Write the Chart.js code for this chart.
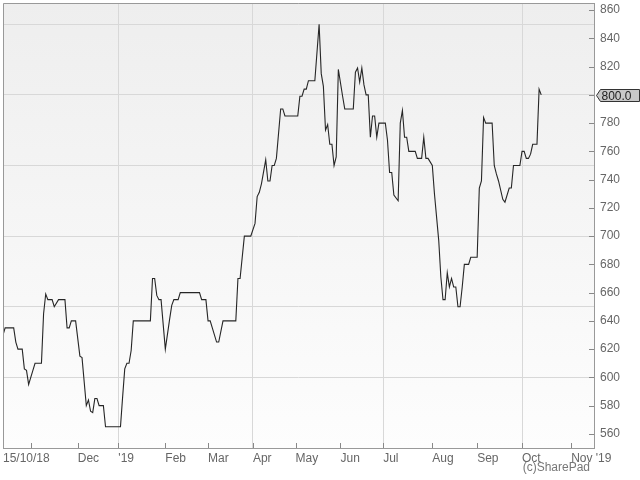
<!DOCTYPE html>
<html>
<head>
<meta charset="utf-8">
<script src="https://cdn.jsdelivr.net/npm/chart.js@4"></script>
<style>
  html, body { margin: 0; padding: 0; background: #fff; }
</style>
</head>
<body>
<canvas id="chart" width="640" height="480"></canvas>
<script>
// trading-day index counted from 15/10/18, and close price (p)
const dayIndex = [0, 1, 5, 6, 7, 9, 10, 11, 12, 14, 15, 18, 19, 20, 21, 23, 24, 26, 29, 30,
  31, 32, 34, 36, 37, 39, 40, 41, 42, 43, 44, 45, 47, 48, 55, 56, 57, 58, 59, 60,
  61, 69, 70, 71, 72, 73, 74, 76, 78, 79, 80, 82, 83, 92, 93, 95, 96, 97, 100, 101,
  103, 109, 110, 111, 113, 116, 118, 119, 120, 121, 123, 124, 125, 126, 127, 128, 130, 131, 132, 138,
  139, 140, 141, 142, 143, 146, 148, 149, 150, 151, 152, 153, 154, 155, 156, 157, 159, 160, 164, 165,
  166, 167, 168, 169, 170, 171, 172, 173, 174, 175, 176, 179, 180, 181, 182, 183, 185, 186, 187, 188,
  189, 190, 193, 194, 196, 197, 198, 199, 201, 202, 204, 205, 206, 207, 208, 209, 210, 211, 212, 213,
  214, 215, 216, 218, 219, 222, 223, 224, 225, 226, 229, 230, 231, 232, 234, 235, 237, 238, 239, 242,
  243, 244, 245, 246, 247, 248, 250, 251, 252];
const closePrice = [630, 635, 635, 625, 620, 620, 606, 605, 595, 605, 610, 610, 645, 659, 655, 655, 650, 655, 655, 635,
  635, 640, 640, 615, 614, 580, 584, 576, 575, 585, 585, 580, 580, 565, 565, 586, 606, 610, 610, 619,
  640, 640, 670, 670, 658, 655, 655, 620, 641, 651, 655, 655, 660, 660, 655, 655, 640, 640, 625, 625,
  640, 640, 670, 670, 700, 700, 709, 728, 731, 737, 754, 739, 739, 750, 750, 755, 790, 790, 785, 785,
  799, 799, 804, 804, 810, 810, 850, 815, 806, 775, 779, 765, 765, 750, 756, 818, 799, 790, 790, 816,
  819, 809, 819, 807, 800, 800, 770, 785, 785, 770, 780, 780, 768, 745, 745, 729, 725, 780, 789, 770,
  770, 760, 760, 755, 755, 770, 755, 755, 750, 730, 697, 671, 655, 655, 674, 664, 670, 664, 664, 650,
  650, 664, 680, 680, 685, 685, 734, 739, 784, 780, 780, 750, 744, 739, 726, 724, 734, 734, 750, 750,
  760, 760, 755, 755, 758, 765, 765, 804, 800];

// month starts (trading-day index) and their labels
const monthTicks = [0, 13, 35, 54, 76, 96, 117, 137, 158, 178, 201, 222, 243, 266];
const monthLabels = ['15/10/18', '', 'Dec', "'19", 'Feb', 'Mar', 'Apr', 'May', 'Jun', 'Jul', 'Aug', 'Sep', 'Oct', "Nov '19"];
const quarterTicks = [54, 117, 178, 243];
const priceTicks = [560, 580, 600, 620, 640, 660, 680, 700, 720, 740, 760, 780, 800, 820, 840, 860];
const priceGrid = [600, 650, 700, 750, 800, 850];

const FAMILY = "'Liberation Sans Narrow', 'Liberation Sans', Arial, sans-serif";
const FONT = { family: FAMILY, size: 12 };

const sharePadLook = {
  id: 'sharePadLook',
  beforeDraw(chart) {
    const { ctx, chartArea: a } = chart;
    ctx.save();
    ctx.fillStyle = '#fff';
    ctx.fillRect(0, 0, chart.width, chart.height);
    const g = ctx.createLinearGradient(0, a.top, 0, a.bottom);
    g.addColorStop(0, '#eeeeee');
    g.addColorStop(1, '#fdfdfd');
    ctx.fillStyle = g;
    ctx.fillRect(a.left, a.top, a.right - a.left, a.bottom - a.top);
    ctx.restore();
  },
  afterDraw(chart) {
    const { ctx, chartArea: a, scales } = chart;
    ctx.save();
    // top and left frame
    ctx.strokeStyle = '#999';
    ctx.lineWidth = 1;
    ctx.beginPath();
    ctx.moveTo(a.left + 0.5, a.bottom);
    ctx.lineTo(a.left + 0.5, a.top + 0.5);
    ctx.lineTo(a.right, a.top + 0.5);
    ctx.stroke();

    // small inside tick marks
    ctx.strokeStyle = '#888';
    ctx.beginPath();
    monthTicks.slice(1).forEach(t => {
      const px = Math.round(scales.x.getPixelForValue(t)) + 0.5;
      ctx.moveTo(px, a.bottom);
      ctx.lineTo(px, a.bottom - 5);
    });
    priceTicks.forEach(t => {
      const py = Math.round(scales.y.getPixelForValue(t)) + 0.5;
      ctx.moveTo(a.right - 5, py);
      ctx.lineTo(a.right, py);
    });
    ctx.stroke();

    // last price tag
    const last = closePrice[closePrice.length - 1];
    const py = Math.round(scales.y.getPixelForValue(last)) + 0.5;
    const x0 = a.right + 2.5;
    ctx.beginPath();
    ctx.moveTo(x0, py);
    ctx.lineTo(x0 + 4, py - 6);
    ctx.lineTo(639.5, py - 6);
    ctx.lineTo(639.5, py + 6);
    ctx.lineTo(x0 + 4, py + 6);
    ctx.closePath();
    ctx.fillStyle = '#c8c8c8';
    ctx.fill();
    ctx.strokeStyle = '#333';
    ctx.stroke();
    ctx.fillStyle = '#222';
    ctx.font = '12px ' + FAMILY;
    ctx.textBaseline = 'middle';
    ctx.textAlign = 'left';
    ctx.fillText(last.toFixed(1), x0 + 5, py + 1);

    // credit
    ctx.fillStyle = '#777';
    ctx.textAlign = 'right';
    ctx.fillText('(c)SharePad', 590, 468);
    ctx.restore();
  }
};

new Chart(document.getElementById('chart'), {
  type: 'line',
  data: {
    datasets: [{
      data: dayIndex.map((d, i) => ({ x: d, y: closePrice[i] })),
      borderColor: '#262626',
      borderWidth: 1.1,
      pointRadius: 0,
      tension: 0,
      fill: false
    }]
  },
  options: {
    responsive: false,
    animation: false,
    layout: { padding: { left: 3, top: 3 } },
    plugins: { legend: { display: false }, tooltip: { enabled: false } },
    scales: {
      x: {
        type: 'linear',
        min: 0,
        max: 276.7,
        afterBuildTicks: scale => { scale.ticks = monthTicks.map(v => ({ value: v })); },
        afterFit: scale => {
          scale.height = 32;
          scale.paddingLeft = 0;
          scale.paddingRight = 0;
        },
        ticks: {
          autoSkip: false,
          maxRotation: 0,
          align: 'start',
          padding: 3,
          color: '#666',
          font: FONT,
          callback: v => monthLabels[monthTicks.indexOf(v)]
        },
        grid: {
          drawTicks: false,
          color: c => quarterTicks.includes(c.tick && c.tick.value) ? '#d8d8d8' : 'transparent'
        },
        border: { color: '#999' }
      },
      y: {
        position: 'right',
        min: 550,
        max: 865,
        afterBuildTicks: scale => {
          const all = [...new Set(priceTicks.concat(priceGrid))].sort((p, q) => p - q);
          scale.ticks = all.map(v => ({ value: v }));
        },
        afterFit: scale => {
          scale.width = 46;
          scale.paddingTop = 0;
          scale.paddingBottom = 0;
        },
        ticks: {
          autoSkip: false,
          padding: 6,
          color: '#666',
          font: FONT,
          callback: v => (v % 20 === 0 ? String(v) : '')
        },
        grid: {
          drawTicks: false,
          color: c => (c.tick && c.tick.value % 50 === 0 ? '#d8d8d8' : 'transparent')
        },
        border: { color: '#999' }
      }
    }
  },
  plugins: [sharePadLook]
});
</script>
</body>
</html>
